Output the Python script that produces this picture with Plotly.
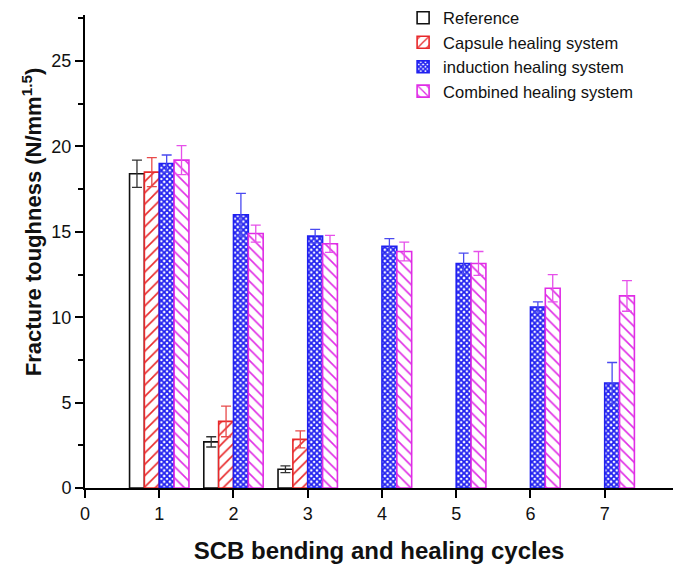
import plotly.graph_objects as go

cycles = [1, 2, 3, 4, 5, 6, 7]
series_names = ["Reference", "Capsule healing system", "induction healing system", "Combined healing system"]
reference = [18.4, 2.7, 1.1, None, None, None, None]
reference_err = [0.8, 0.3, 0.2, None, None, None, None]
capsule = [18.5, 3.9, 2.85, None, None, None, None]
capsule_err = [0.85, 0.9, 0.5, None, None, None, None]
induction = [19.0, 16.0, 14.75, 14.15, 13.15, 10.6, 6.15]
induction_err = [0.5, 1.25, 0.4, 0.45, 0.6, 0.3, 1.2]
combined = [19.2, 14.9, 14.3, 13.85, 13.15, 11.7, 11.25]
combined_err = [0.85, 0.5, 0.5, 0.55, 0.7, 0.8, 0.9]

styles = [
    dict(line="#111111", fg="#111111", shape="", err="#333333"),
    dict(line="#e8282a", fg="#e8282a", shape="/", err="#e84a4a"),
    dict(line="#2020f0", fg="#2020f0", shape="x", err="#4a4af0"),
    dict(line="#e02ce6", fg="#e02ce6", shape="\\", err="#e650ea"),
]

font_family = "Arial, Liberation Sans, sans-serif"
fig = go.Figure()
for name, vals, errs, st in zip(series_names, [reference, capsule, induction, combined],
                                 [reference_err, capsule_err, induction_err, combined_err], styles):
    pattern = dict(shape=st["shape"], fgcolor=st["fg"], bgcolor="white", fillmode="overlay", fgopacity=1)
    if st["shape"] == "x":
        pattern.update(size=4, solidity=0.7)
    elif st["shape"]:
        pattern.update(size=8, solidity=0.2)
    fig.add_trace(go.Bar(
        x=cycles, y=vals, name=name,
        marker=dict(color="white", line=dict(color=st["line"], width=1.6), pattern=pattern),
        error_y=dict(type="data", array=errs, visible=True, color=st["err"], thickness=1.3, width=5),
    ))

fig.update_layout(
    width=679, height=566,
    margin=dict(l=85, r=6, t=15, b=78, autoexpand=False),
    plot_bgcolor="white", paper_bgcolor="white",
    barmode="group", bargap=0.2, bargroupgap=0,
    font=dict(family=font_family, size=18, color="#111111"),
    legend=dict(x=0.541, y=0.999, xanchor="left", yanchor="top", yref="container",
                font=dict(size=16.5, family=font_family, color="#111111"),
                bgcolor="rgba(255,255,255,0)", tracegroupgap=0, itemwidth=30),
    showlegend=True,
)
fig.add_annotation(
    text="<b>Fracture toughness (N/mm<sup>1.5</sup>)</b>",
    xref="paper", yref="paper", x=-0.090, y=0.562, xanchor="center", yanchor="middle",
    textangle=-90, showarrow=False, font=dict(size=22, family=font_family, color="#111111"),
)
fig.update_xaxes(
    range=[0, 7.92], tickmode="linear", tick0=0, dtick=1,
    showline=True, linecolor="black", linewidth=2,
    ticks="outside", ticklen=8, tickwidth=2, tickcolor="black",
    showgrid=False, zeroline=False,
    tickfont=dict(size=18),
    title=dict(text="<b>SCB bending and healing cycles</b>", font=dict(size=24), standoff=20),
)
fig.update_yaxes(
    range=[0, 27.7], tickmode="linear", tick0=0, dtick=5,
    showline=True, linecolor="black", linewidth=2,
    ticks="outside", ticklen=8, tickwidth=2, tickcolor="black",
    minor=dict(ticks="outside", ticklen=5, tickwidth=2, tickcolor="black", dtick=2.5, showgrid=False),
    showgrid=False, zeroline=False,
    tickfont=dict(size=18),
)

fig.write_html("out.html")
